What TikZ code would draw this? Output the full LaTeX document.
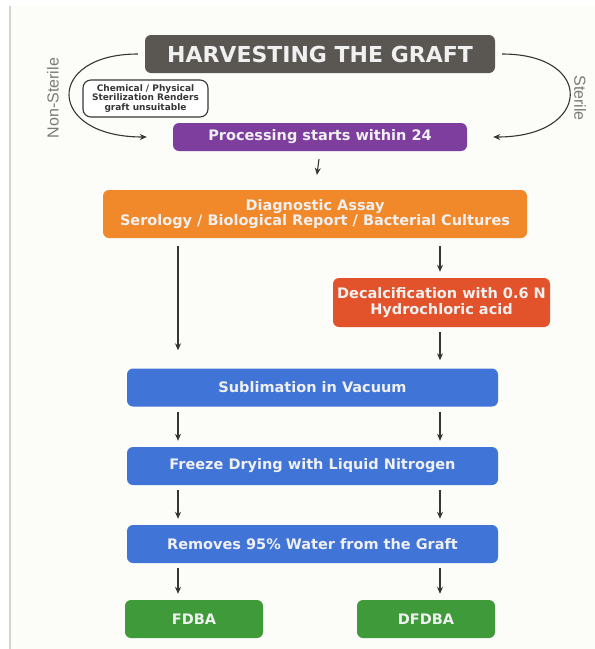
\documentclass[tikz,border=0pt]{standalone}
\usepackage{fontspec}
\setmainfont{DejaVu Sans}
\newfontfamily\sidefont{Liberation Sans}
\usepackage{tikz}
\usetikzlibrary{arrows.meta}
\usepackage{xcolor}
\definecolor{paper}{HTML}{FCFCF8}
\definecolor{edgeline}{HTML}{D6D3C6}
\definecolor{harvest}{HTML}{5A5652}
\definecolor{process}{HTML}{7D3E9E}
\definecolor{assay}{HTML}{F1892B}
\definecolor{decal}{HTML}{E2532C}
\definecolor{stepblue}{HTML}{4074D6}
\definecolor{product}{HTML}{3F9A39}
\definecolor{ink}{HTML}{363636}
\definecolor{muted}{HTML}{7A7A7A}
\tikzset{
  block/.style={rectangle, rounded corners=6pt, text=white!94!black,
                align=center, inner sep=0pt, minimum width=371pt,
                minimum height=38pt,
                font=\bfseries\fontsize{14.5}{15.5}\selectfont},
  blockH/.style={block, fill=harvest, minimum width=350pt,
                 font=\bfseries\fontsize{22}{24}\selectfont},
  blockP/.style={block, fill=process, minimum width=294pt,
                 minimum height=28pt},
  blockO/.style={block, fill=assay, minimum width=424pt,
                 minimum height=48pt},
  blockR/.style={block, fill=decal, minimum width=217pt,
                 minimum height=49pt},
  blockB/.style={block, fill=stepblue},
  blockG/.style={block, fill=product, minimum width=138pt},
  note/.style={rectangle, rounded corners=8pt, draw=ink, line width=1.1pt,
               fill=white, text=ink, align=center, inner sep=0pt,
               minimum width=125pt, minimum height=37pt,
               font=\bfseries\fontsize{9}{9.5}\selectfont},
  arrow/.style={-{Stealth[length=7pt, width=6pt]}, line width=1.1pt,
                draw=ink, shorten <=5pt, shorten >=6pt},
  curvearrow/.style={-{Stealth[length=7pt, width=6pt]}, line width=1.1pt,
                     draw=ink},
  sidelabel/.style={text=muted, font=\sidefont\fontsize{16}{18}\selectfont},
}
\begin{document}
\begin{tikzpicture}[x=1pt, y=-1pt]
  %% Page
  \useasboundingbox (0,0) rectangle (595,649);
  \fill[paper] (0,0) rectangle (595,649);
  \fill[white] (0,0) rectangle (595,6);
  \fill[white] (0,0) rectangle (9,649);
  \draw[edgeline, line width=2.5pt] (10,6) -- (10,649);

  %% Columns
  \coordinate (colL) at (178,0);
  \coordinate (colR) at (440,0);

  %% Top of the chart
  \node[blockH] (harvest) at (320,54) {HARVESTING THE GRAFT};
  \node[blockP] (proc) at (320,137) {Processing starts within 24};
  \node[note] (chem) at (145.5,98.5)
    {Chemical / Physical\\Sterilization Renders\\graft unsuitable};
  \node[sidelabel, rotate=90] (nonster) at (53,98) {Non-Sterile};
  \node[sidelabel, rotate=-90] (ster) at (580,98) {Sterile};

  \draw[curvearrow, shorten <=7pt, shorten >=26pt]
    (harvest.west) .. controls +(-100,0) and +(-127,0) .. (proc.west);
  \draw[curvearrow, shorten <=7pt, shorten >=26pt]
    (harvest.east) .. controls +(100,0) and +(125,0) .. (proc.east);

  %% Assay and decalcification
  \node[blockO] (assay) at (315,214)
    {Diagnostic Assay\\Serology / Biological Report / Bacterial Cultures};
  \node[blockR] (decal) at (441.5,302.5)
    {Decalcification with 0.6 N\\Hydrochloric acid};

  %% Blue steps
  \node[blockB] (subl) at (312.5,387.5) {Sublimation in Vacuum};
  \node[blockB] (freeze) at (312.5,466) {Freeze Drying with Liquid Nitrogen};
  \node[blockB] (water) at (312.5,544) {Removes 95\% Water from the Graft};

  %% Products
  \node[blockG] (fdba) at (194,619) {FDBA};
  \node[blockG] (dfdba) at (426,619) {DFDBA};

  %% Arrows
  \draw[arrow, shorten <=8pt, shorten >=15pt] (proc.south) -- (assay.north);
  \draw[arrow, shorten <=8pt, shorten >=18pt]
    (assay.south -| colL) -- (subl.north -| colL);
  \draw[arrow, shorten <=8pt] (assay.south -| colR) -- (decal.north -| colR);
  \draw[arrow, shorten >=8pt] (decal.south -| colR) -- (subl.north -| colR);
  \foreach \a/\b in {subl/freeze, freeze/water}{
    \draw[arrow] (\a.south -| colL) -- (\b.north -| colL);
    \draw[arrow] (\a.south -| colR) -- (\b.north -| colR);
  }
  \draw[arrow] (water.south -| colL) -- (fdba.north -| colL);
  \draw[arrow] (water.south -| colR) -- (dfdba.north -| colR);

\end{tikzpicture}
\end{document}
